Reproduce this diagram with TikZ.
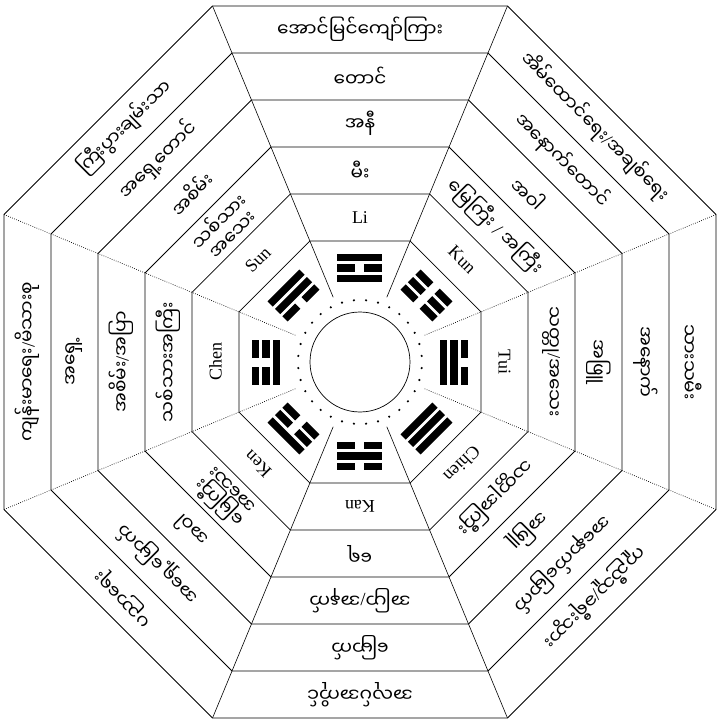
\documentclass[tikz,border=0pt]{standalone}
\usepackage{fontspec}
\setmainfont{Liberation Serif}
\newfontfamily\mmfont[Script=Myanmar]{Noto Sans Myanmar UI}
\usetikzlibrary{calc}

% slash from the main font (the Myanmar font has none)
\newcommand{\slh}{{\normalfont/}}

% one trigram: angle, then inner, middle, outer line (1 = whole, 0 = broken)
\newcommand{\trigram}[4]{%
  \begin{scope}[rotate=#1-90]
    \foreach \b [count=\j] in {#2,#3,#4}{
      \pgfmathsetmacro{\yy}{94+10.5*(\j-2)}
      \ifnum\b=1
        \fill (-22.5,\yy-3.7) rectangle (22.5,\yy+3.7);
      \else
        \fill (-22.5,\yy-3.7) rectangle (-4.5,\yy+3.7);
        \fill (4.5,\yy-3.7) rectangle (22.5,\yy+3.7);
      \fi
    }
  \end{scope}}

\begin{document}
\begin{tikzpicture}[x=1pt,y=1pt,
  ring/.style={line width=0.8pt},
  spoke/.style={line width=0.6pt},
  dotspoke/.style={line width=0.7pt, dash pattern=on 0.7pt off 1.5pt},
  gua/.style={font=\fontsize{18}{18}\selectfont, inner sep=0pt},
  mm/.style={font=\mmfont\fontsize{18.5}{21}\selectfont, inner sep=0pt, align=center}]

\useasboundingbox (-360,-361) rectangle (360,362);

% octagon rings
\foreach \a in {121,168,215,262,309,356}
  \draw[ring] (22.5:{\a/cos(22.5)}) \foreach \k in {1,...,7}{ -- (22.5+45*\k:{\a/cos(22.5)}) } -- cycle;

% spokes
\foreach \k in {1,2,5,6} \draw[spoke] (22.5+45*\k:70) -- (22.5+45*\k:385.3);
\foreach \k in {0,3,4,7} \draw[dotspoke] (22.5+45*\k:70) -- (22.5+45*\k:385.3);

% centre circle and ring of dots
\draw[line width=0.7pt] (0,0) circle (50);
\foreach \i in {0,...,31} \fill (5.625+11.25*\i:62) circle (1.2);

% trigrams
\trigram{90}{1}{0}{1}
\trigram{45}{0}{0}{0}
\trigram{0}{1}{1}{0}
\trigram{-45}{1}{1}{1}
\trigram{-90}{0}{1}{0}
\trigram{-135}{0}{0}{1}
\trigram{180}{1}{0}{0}
\trigram{135}{0}{1}{1}

% top
\node[gua] (li) at (90:144.5) {Li};
\node[mm] (li2) at (90:191.5) {မီး};
\node[mm] (li3) at (90:238.5) {အနီ};
\node[mm] (li4) at (90:285.5) {တောင်};
\node[mm] (li5) at (90:332.5) {အောင်မြင်ကျော်ကြား};

% upper right
\node[gua, rotate=-45] (kun) at (45:144.5) {Kun};
\node[mm, rotate=-45] (kun2) at (45:191.5) {မြေကြီး \slh{} အကြီး};
\node[mm, rotate=-45] (kun3) at (45:238.5) {အဝါ};
\node[mm, rotate=-45] (kun4) at (45:285.5) {အနောက်တောင်};
\node[mm, rotate=-45] (kun5) at (45:332.5) {အိမ်ထောင်ရေး\slh{}အချစ်ရေး};

% right
\node[gua, rotate=-90] (tui) at (0:144.5) {Tui};
\node[mm, rotate=-90] (tui2) at (0:191.5) {သတ္တု\slh{}အသေး};
\node[mm, rotate=-90] (tui3) at (0:238.5) {အဖြူ};
\node[mm, rotate=-90] (tui4) at (0:285.5) {အနောက်};
\node[mm, rotate=-90] (tui5) at (0:332.5) {သားသမီး};

% lower right
\node[gua, rotate=-135] (chien) at (-45:144.5) {Chien};
\node[mm, rotate=-135] (chien2) at (-45:191.5) {သတ္တုအကြီး};
\node[mm, rotate=-135] (chien3) at (-45:238.5) {အဖြူ};
\node[mm, rotate=-135] (chien4) at (-45:285.5) {အနောက်မြောက်};
\node[mm, rotate=-135] (chien5) at (-45:332.5) {ကူညီသူ\slh{}ခရီးသွား};

% bottom
\node[gua, rotate=180] (kan) at (-90:144.5) {Kan};
\node[mm, rotate=180] (kan2) at (-90:191.5) {ရေ};
\node[mm, rotate=180] (kan3) at (-90:238.5) {အပြာ\slh{}အနက်};
\node[mm, rotate=180] (kan4) at (-90:285.5) {မြောက်};
\node[mm, rotate=180] (kan5) at (-90:332.5) {အလုပ်အကိုင်};

% lower left
\node[gua, rotate=135] (ken) at (-135:144.5) {Ken};
\node[mm, rotate=135] (ken2) at (-135:191.5) {မြေကြီး\\[-3pt]အသေး};
\node[mm, rotate=135] (ken3) at (-135:238.5) {အဝါ};
\node[mm, rotate=135] (ken4) at (-135:285.5) {အရှေ့မြောက်};
\node[mm, rotate=135] (ken5) at (-135:332.5) {ပညာရေး};

% left
\node[gua, rotate=90] (chen) at (180:144.5) {Chen};
\node[mm, rotate=90] (chen2) at (180:191.5) {သစ်သားအကြီး};
\node[mm, rotate=90] (chen3) at (180:238.5) {အစိမ်း\slh{}အပြာ};
\node[mm, rotate=90] (chen4) at (180:285.5) {အရှေ့};
\node[mm, rotate=90] (chen5) at (180:332.5) {ကျန်းမာရေး\slh{}မိသားစု};

% upper left
\node[gua, rotate=45] (sun) at (135:144.5) {Sun};
\node[mm, rotate=45] (sun2) at (135:191.5) {သစ်သား\\[-3pt]အသေး};
\node[mm, rotate=45] (sun3) at (135:238.5) {အစိမ်း};
\node[mm, rotate=45] (sun4) at (135:285.5) {အရှေ့တောင်};
\node[mm, rotate=45] (sun5) at (135:332.5) {ကြီးပွားချမ်းသာ};

\end{tikzpicture}
\end{document}
